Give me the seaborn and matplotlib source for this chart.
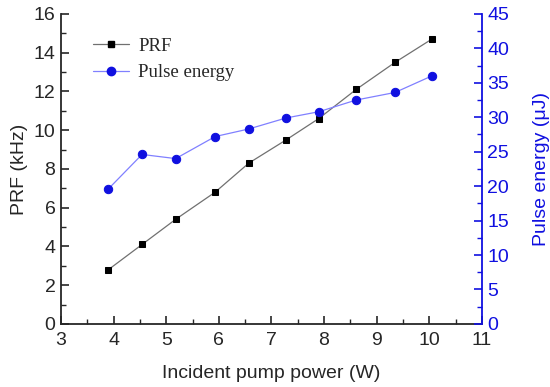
import matplotlib
matplotlib.use("Agg")
import matplotlib.pyplot as plt
from matplotlib.ticker import MultipleLocator
from matplotlib.lines import Line2D
import seaborn as sns
import pandas as pd

power = [3.9, 4.54, 5.18, 5.93, 6.57, 7.28, 7.9, 8.61, 9.35, 10.05]
prf = [2.8, 4.1, 5.4, 6.8, 8.3, 9.5, 10.6, 12.1, 13.5, 14.7]
energy = [19.6, 24.6, 24.0, 27.2, 28.3, 29.9, 30.8, 32.5, 33.6, 36.0]

df = pd.DataFrame({"power": power, "prf": prf, "energy": energy})

sns.set_style("white")
plt.rcParams["font.family"] = ["Liberation Sans", "DejaVu Sans"]

blue = "#1010e0"
fig, ax = plt.subplots(figsize=(5.5, 3.87), dpi=100)
fig.subplots_adjust(left=0.111, right=0.876, top=0.964, bottom=0.163)
ax2 = ax.twinx()

sq_kw = dict(marker="s", markersize=5, markerfacecolor="black", markeredgecolor="black")
ci_kw = dict(marker="o", markersize=6, markerfacecolor=blue, markeredgecolor=blue)

sns.lineplot(data=df, x="power", y="prf", ax=ax, color="#707070", lw=0.9,
             label="PRF", legend=False, **sq_kw)
sns.lineplot(data=df, x="power", y="energy", ax=ax2, color="#8080ff", lw=0.9,
             label="Pulse energy", legend=False, **ci_kw)

ax.set_xlim(3, 11)
ax.set_ylim(0, 16)
ax2.set_ylim(0, 45)
ax.xaxis.set_major_locator(MultipleLocator(1))
ax.xaxis.set_minor_locator(MultipleLocator(0.5))
ax.yaxis.set_major_locator(MultipleLocator(2))
ax.yaxis.set_minor_locator(MultipleLocator(1))
ax2.yaxis.set_major_locator(MultipleLocator(5))
ax2.yaxis.set_minor_locator(MultipleLocator(2.5))

for a in (ax, ax2):
    a.spines["top"].set_visible(False)
    for s in a.spines.values():
        s.set_linewidth(1.3)
ax.spines["right"].set_visible(False)
ax2.spines["left"].set_visible(False)
ax2.spines["bottom"].set_visible(False)
ax2.spines["right"].set_color(blue)

ax.tick_params(axis="x", which="major", direction="in", length=6, width=1.2,
               labelsize=14, pad=6, bottom=True)
ax.tick_params(axis="y", which="major", direction="in", length=6, width=1.2,
               labelsize=14, pad=4, left=True)
ax.tick_params(axis="both", which="minor", direction="in", length=3.5, width=1.0,
               left=True, bottom=True)
ax2.tick_params(axis="y", which="major", direction="in", length=6, width=1.2,
                labelsize=14, colors=blue, pad=4, right=True)
ax2.tick_params(axis="y", which="minor", direction="in", length=3.5, width=1.0,
                colors=blue, right=True)

ax.set_xlabel("Incident pump power (W)", fontsize=14, labelpad=11)
ax.set_ylabel("PRF (kHz)", fontsize=14, labelpad=4)
ax2.set_ylabel("Pulse energy (\u03bcJ)", fontsize=14, color=blue, labelpad=17)

handles = [
    Line2D([], [], color="#707070", lw=0.9, **sq_kw),
    Line2D([], [], color="#8080ff", lw=0.9, **ci_kw),
]
ax.legend(handles, ["PRF", "Pulse energy"], loc="upper left",
          bbox_to_anchor=(0.036, 0.978), frameon=False, handlelength=1.9,
          handletextpad=0.5,
          prop={"family": "Liberation Serif", "size": 13.5}, labelspacing=0.5)

fig.savefig("out.png", dpi=100)
